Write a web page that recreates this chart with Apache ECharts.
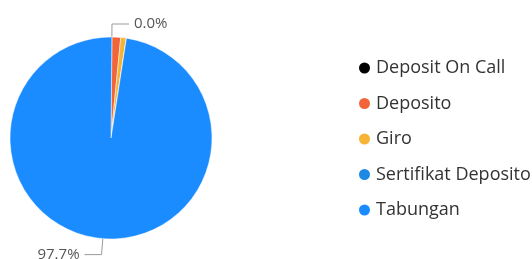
<!DOCTYPE html>
<html><head><meta charset="utf-8">
<script src="https://cdn.jsdelivr.net/npm/echarts@6/dist/echarts.min.js"></script>
<style>html,body{margin:0;padding:0;background:#fff}#c{width:532px;height:259px}</style>
</head><body><div id="c"></div>
<script>
const categories = ['Deposit On Call', 'Deposito', 'Giro', 'Sertifikat Deposito', 'Tabungan'];
const values = [0, 1.4, 0.9, 0, 97.7];
const colors = ['#000000', '#F2653A', '#F7B336', '#1E88E5', '#1A8CFF'];
const labeled = ['Deposit On Call', 'Tabungan'];

const chart = echarts.init(document.getElementById('c'));
chart.setOption({
  animation: false,
  color: colors,
  legend: {
    orient: 'vertical', left: 352, top: 53,
    icon: 'circle', itemWidth: 13, itemHeight: 13, itemGap: 15.5,
    data: categories,
    textStyle: { fontFamily: 'Open Sans', fontSize: 18, color: '#333', lineHeight: 20 }
  },
  series: [{
    type: 'pie', center: [111, 138], radius: 101,
    startAngle: 89.5, clockwise: true,
    avoidLabelOverlap: false,
    itemStyle: { borderColor: '#fff', borderWidth: 0.5 },
    label: { show: false },
    labelLine: { show: false },
    data: categories.map((n, i) => ({
      name: n, value: values[i],
      label: labeled.includes(n) ? {
        show: true, fontFamily: 'Open Sans', fontSize: 15, color: '#555',
        distanceToLabelLine: 5,
        formatter: p => p.percent.toFixed(1) + '%'
      } : { show: false },
      labelLine: labeled.includes(n) ? { show: true, length: n === 'Tabungan' ? 16 : 13, length2: 17, lineStyle: { color: '#999', width: 1 } } : { show: false }
    }))
  }]
});
</script></body></html>
